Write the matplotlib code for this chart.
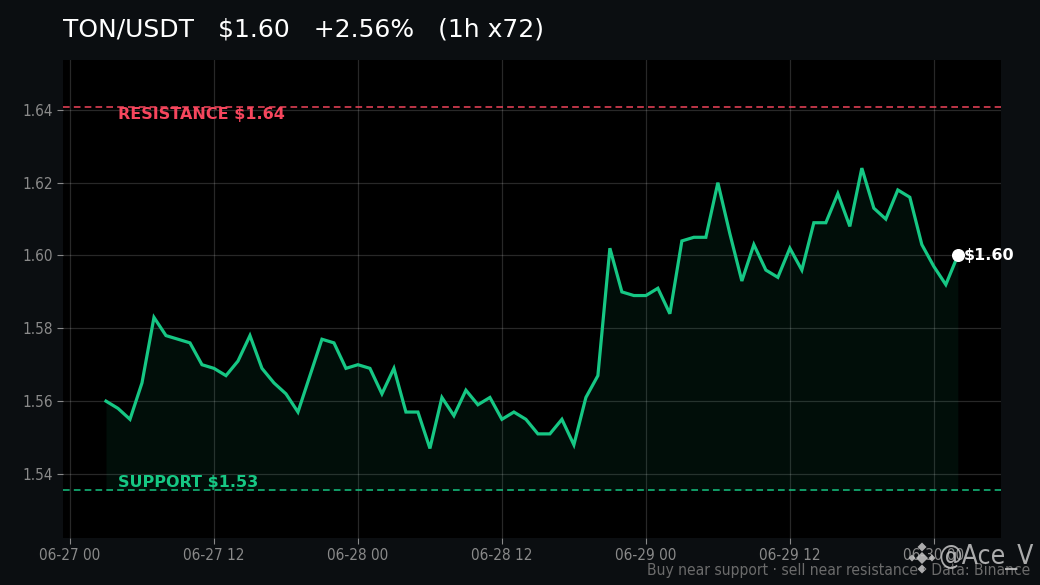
import matplotlib
matplotlib.use("Agg")
import matplotlib.pyplot as plt
import matplotlib.dates as mdates
from matplotlib.transforms import IdentityTransform
import pandas as pd
from matplotlib.patches import RegularPolygon

# ---- data ----
start_time = "2024-06-27 03:00"
prices = [
    1.560, 1.558, 1.555, 1.565, 1.583, 1.578, 1.577, 1.576, 1.570, 1.569,
    1.567, 1.571, 1.578, 1.569, 1.565, 1.562, 1.557, 1.567, 1.577, 1.576,
    1.569, 1.570, 1.569, 1.562, 1.569, 1.557, 1.557, 1.547, 1.561, 1.556,
    1.563, 1.559, 1.561, 1.555, 1.557, 1.555, 1.551, 1.551, 1.555, 1.548,
    1.561, 1.567, 1.602, 1.590, 1.589, 1.589, 1.591, 1.584, 1.604, 1.605,
    1.605, 1.620, 1.606, 1.593, 1.603, 1.596, 1.594, 1.602, 1.596, 1.609,
    1.609, 1.617, 1.608, 1.624, 1.613, 1.610, 1.618, 1.616, 1.603, 1.597,
    1.592, 1.600,
]
resistance = 1.6408
support = 1.5355
title_text = "TON/USDT   $1.60   +2.56%   (1h x72)"
resistance_label = "RESISTANCE $1.64"
support_label = "SUPPORT $1.53"
price_label = "$1.60"
footer_text = "Buy near support · sell near resistance · Data: Binance"
watermark_text = "@Ace_V"
yticks = [1.54, 1.56, 1.58, 1.60, 1.62, 1.64]

times = pd.date_range(start_time, periods=len(prices), freq="h")

# ---- style ----
FIG_BG = "#0b0e11"
AX_BG = "#000000"
GREEN = "#16c784"
RED = "#f6465d"
TICK = "#8a8a8a"
W, H = 1040, 585

fig = plt.figure(figsize=(10.4, 5.85), dpi=100, facecolor=FIG_BG)
ax = fig.add_axes([63/W, 1-538/H, (1001-63)/W, (538-60)/H])
ax.set_facecolor(AX_BG)

ax.fill_between(times, prices, support, color=GREEN, alpha=0.07, linewidth=0)
ax.plot(times, prices, color=GREEN, linewidth=2.3, solid_joinstyle="miter", zorder=3)
ax.scatter([times[-1]], [prices[-1]], s=70, color="white", zorder=4)
ax.annotate(price_label, (times[-1], prices[-1]), xytext=(4, 0), textcoords="offset points",
            color="white", fontsize=11.5, fontweight="bold", va="center", ha="left")

ax.axhline(resistance, color=RED, linestyle=(0, (4, 2.5)), linewidth=1.2, alpha=0.9)
ax.axhline(support, color=GREEN, linestyle=(0, (4, 2.5)), linewidth=1.2, alpha=0.9)

x0 = pd.Timestamp("2024-06-27 00:00")
ax.set_xlim(x0 - pd.Timedelta(minutes=35), x0 + pd.Timedelta(hours=77.6))
ax.set_ylim(1.5224, 1.6537)

label_x = x0 + pd.Timedelta(hours=4)
ax.text(label_x, resistance, resistance_label, color=RED, fontsize=11.5, fontweight="bold",
        va="top", ha="left")
ax.text(label_x, support, support_label, color=GREEN, fontsize=11.5, fontweight="bold",
        va="bottom", ha="left")

ax.xaxis.set_major_locator(mdates.HourLocator(byhour=[0, 12]))
ax.xaxis.set_major_formatter(mdates.DateFormatter("%m-%d %H"))
ax.set_yticks(yticks)
ax.set_yticklabels([f"{v:.2f}" for v in yticks])
ax.grid(True, color="#ffffff", alpha=0.16, linewidth=0.9)
ax.set_axisbelow(True)
for s in ax.spines.values():
    s.set_visible(False)
ax.tick_params(colors=TICK, labelsize=11, length=4, width=0.8)
for lab in ax.get_xticklabels() + ax.get_yticklabels():
    lab.set_fontstretch("condensed")
    lab.set_color(TICK)

fig.text(63/W, 1-30/H, title_text, color="white", fontsize=18, va="center", ha="left")

fig.text(1030/W, 1-571/H, footer_text, color="#6b6b6b", fontsize=11.2,
         ha="right", va="center", fontstretch="condensed")
fig.text(1034/W, 1-557/H, watermark_text, color="#c8c8c8", alpha=0.85, fontsize=19,
         ha="right", va="center", fontstretch="condensed")

# diamond-style logo next to the watermark (display pixels, origin bottom-left)
cx, cy = 922, H - 558
for dx, dy, r in [(0, 0, 6), (0, 11, 4.5), (0, -11, 4.5), (-10, 0, 3.5), (10, 0, 3.5)]:
    fig.add_artist(RegularPolygon((cx + dx, cy + dy), 4, radius=r, orientation=0,
                                  transform=IdentityTransform(),
                                  facecolor="#c8c8c8", alpha=0.85, edgecolor="none"))

fig.savefig("out.png", dpi=100, facecolor=FIG_BG)
